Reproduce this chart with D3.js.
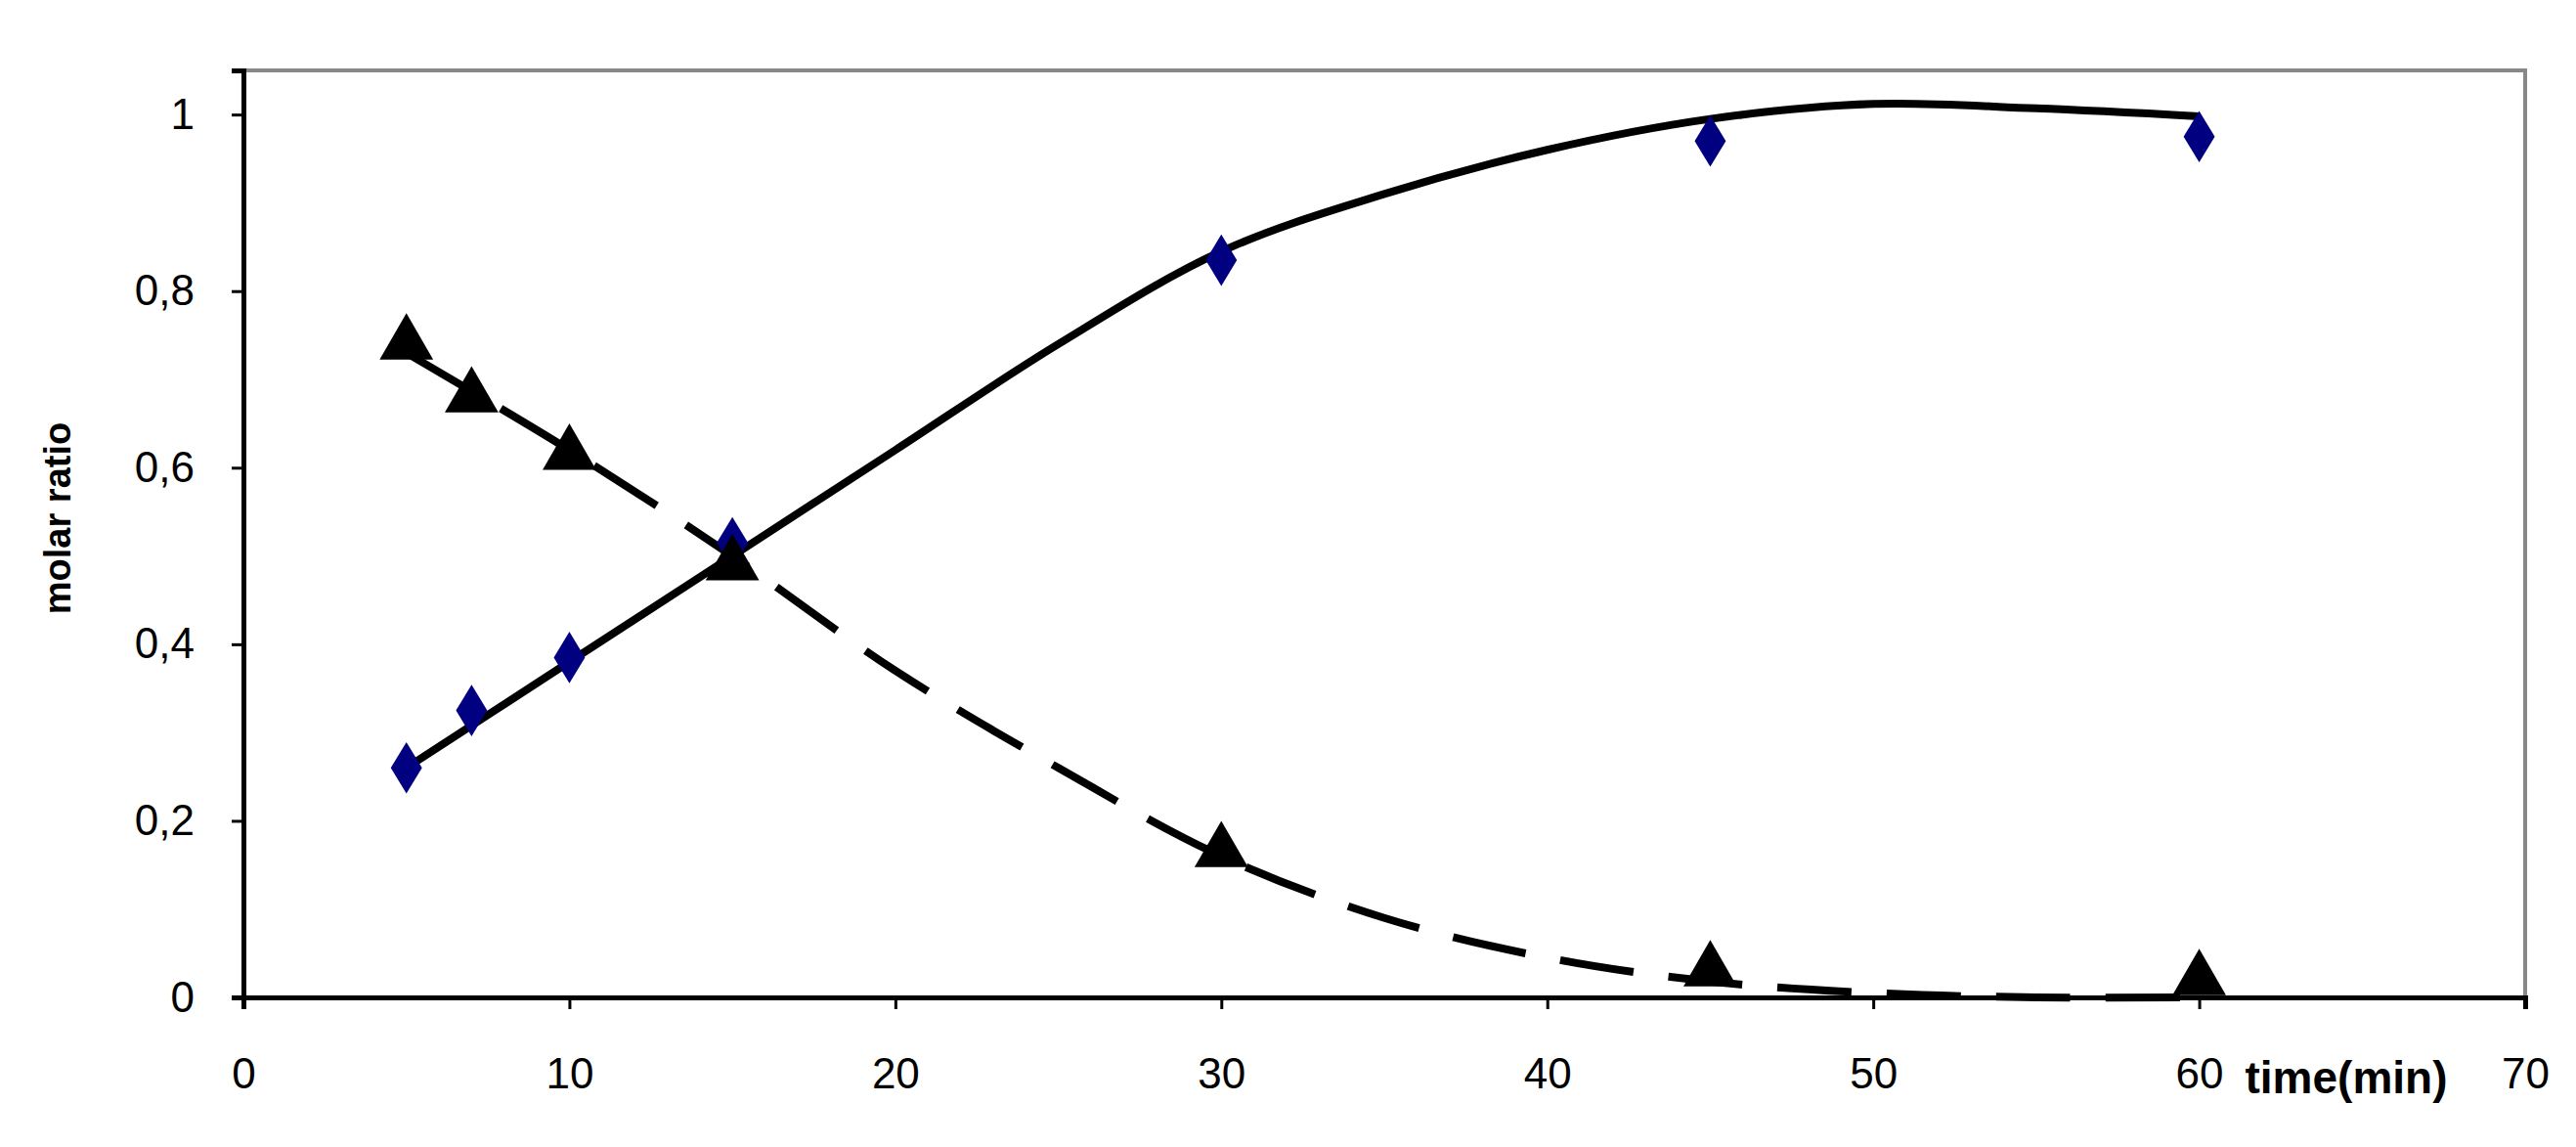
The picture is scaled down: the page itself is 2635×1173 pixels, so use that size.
<!DOCTYPE html><html><head><meta charset="utf-8"><script src="https://cdn.jsdelivr.net/npm/d3@7"></script>
<style>body{margin:0;background:#fff}</style></head><body><svg id="c" width="2635" height="1173"></svg><script>
const xTicks=[0,10,20,30,40,50,60,70];
const yTicks=[0,0.2,0.4,0.6,0.8,1];
const yLabels=["0","0,2","0,4","0,6","0,8","1"];
const ptX=[5,7,10,15,30,45,60];
const diamondY=[0.26,0.325,0.385,0.515,0.835,0.97,0.975];
const triangleY=[0.74,0.68,0.615,0.49,0.165,0.03,0.02];
const fitX=[5,10,15,20,25,30,35,40,45,50,55,60];
const solidFit=[0.26,0.38,0.5,0.62,0.74,0.845,0.91,0.96,0.995,1.012,1.007,0.998];
const dashFit=[0.73,0.62,0.5,0.37,0.26,0.16,0.09,0.045,0.018,0.005,0,0];
const svg=d3.select("#c");
const L=249,R=2583,T=72,B=1020;
const x=d3.scaleLinear().domain([0,70]).range([L,R]);
const y=d3.scaleLinear().domain([0,1.05]).range([B,T]);
const font="'Liberation Sans Narrow','Arial Narrow',sans-serif";
svg.append("rect").attr("x",L).attr("y",T).attr("width",R-L).attr("height",B-T).attr("fill","none").attr("stroke","#888").attr("stroke-width",4);
const ya=svg.append("g").attr("transform",`translate(${L},0)`).call(d3.axisLeft(y).tickValues(yTicks).tickFormat((d,i)=>yLabels[i]).tickSize(12).tickPadding(38));
const xa=svg.append("g").attr("transform",`translate(0,${B})`).call(d3.axisBottom(x).tickValues(xTicks).tickSize(12).tickPadding(50));
[ya,xa].forEach(a=>{a.select(".domain").attr("stroke","#000").attr("stroke-width",5);a.selectAll("line").attr("stroke","#000").attr("stroke-width",3);a.selectAll("text").attr("font-family",font).attr("font-size",44).attr("fill","#000");});
const line=d3.line().x(d=>x(d[0])).y(d=>y(d[1])).curve(d3.curveCatmullRom);
svg.append("path").attr("d",line(fitX.map((v,i)=>[v,solidFit[i]]))).attr("fill","none").attr("stroke","#000").attr("stroke-width",8);
svg.append("path").attr("d",line(fitX.map((v,i)=>[v,dashFit[i]]))).attr("fill","none").attr("stroke","#000").attr("stroke-width",8).attr("stroke-dasharray","76 36");
svg.selectAll(".dm").data(ptX).enter().append("path").attr("d",d3.symbol(d3.symbolDiamond,800)()).attr("transform",(d,i)=>`translate(${x(d)},${y(diamondY[i])}) scale(1.05,1)`).attr("fill","#000080");
svg.selectAll(".tr").data(ptX).enter().append("path").attr("d",d3.symbol(d3.symbolTriangle,1300)()).attr("transform",(d,i)=>`translate(${x(d)},${y(triangleY[i])})`).attr("fill","#000");
svg.append("text").attr("x",2400).attr("y",1118).attr("text-anchor","middle").attr("font-family",font).attr("font-weight","bold").attr("font-size",46).text("time(min)");
svg.append("text").attr("transform",`translate(72,530) rotate(-90)`).attr("text-anchor","middle").attr("font-family","'Liberation Sans',Arial,sans-serif").attr("font-weight","bold").attr("font-size",38).text("molar ratio");
</script></body></html>
